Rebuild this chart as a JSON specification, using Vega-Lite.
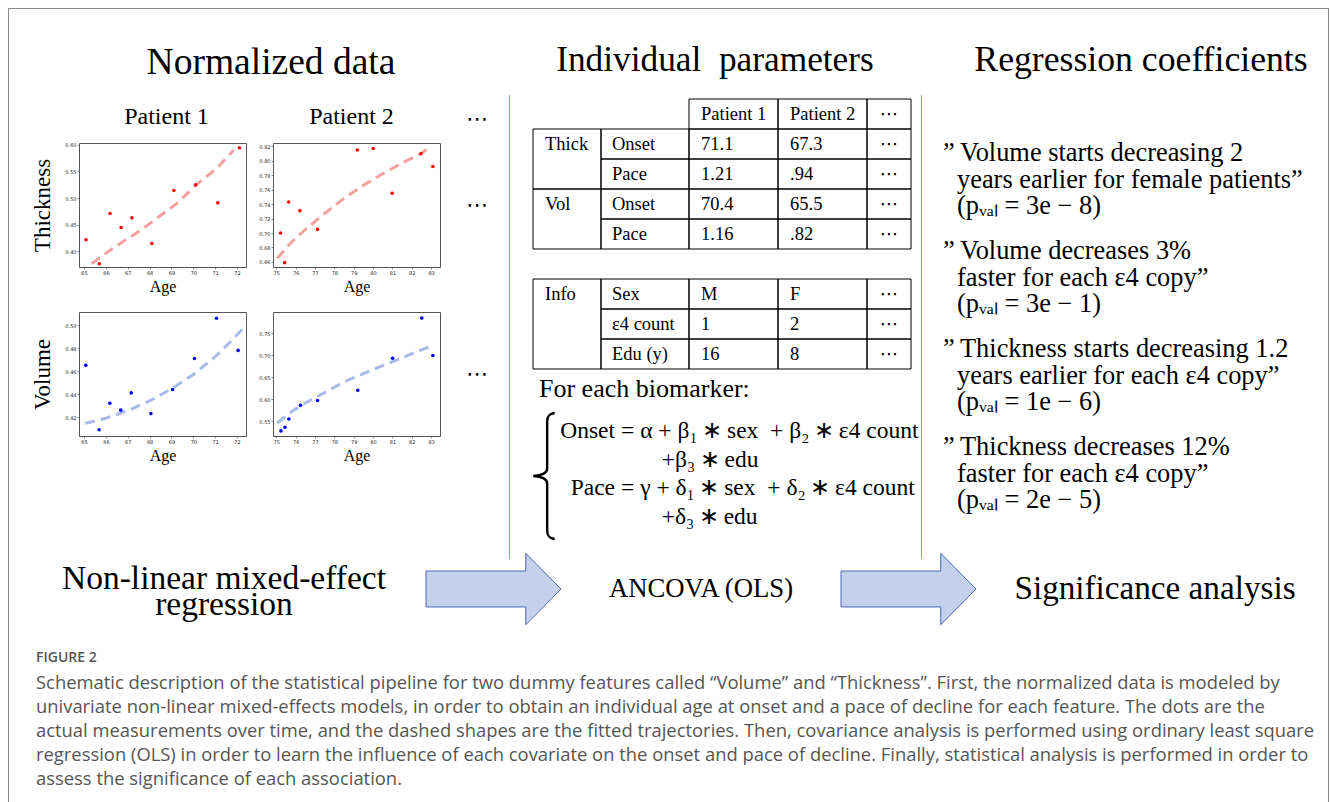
{
"$schema": "https://vega.github.io/schema/vega-lite/v6.json",
"padding": 0,
"background": "white",
"config": {
  "view": {"stroke": null},
  "axis": {"labelFont": "DejaVu Sans", "labelFontSize": 5, "labelColor": "#222", "tickColor": "#444", "tickSize": 2, "tickWidth": 0.6, "labelPadding": 1, "domain": false, "grid": false, "titleFont": "Liberation Serif", "titleFontWeight": "normal", "titleColor": "black"},
  "text": {"font": "Liberation Serif", "color": "black"},
  "title": {"font": "Liberation Serif", "fontWeight": "normal", "color": "black"}
},
"datasets": {
  "obs": [
    {"p":1,"bm":"Thickness","age":65.09,"value":0.422},{"p":1,"bm":"Thickness","age":65.70,"value":0.377},{"p":1,"bm":"Thickness","age":66.19,"value":0.471},{"p":1,"bm":"Thickness","age":66.70,"value":0.445},{"p":1,"bm":"Thickness","age":67.19,"value":0.463},{"p":1,"bm":"Thickness","age":68.10,"value":0.415},{"p":1,"bm":"Thickness","age":69.11,"value":0.514},{"p":1,"bm":"Thickness","age":70.11,"value":0.525},{"p":1,"bm":"Thickness","age":71.12,"value":0.491},{"p":1,"bm":"Thickness","age":72.11,"value":0.594},
    {"p":2,"bm":"Thickness","age":75.22,"value":0.700},{"p":2,"bm":"Thickness","age":75.43,"value":0.659},{"p":2,"bm":"Thickness","age":75.64,"value":0.743},{"p":2,"bm":"Thickness","age":76.22,"value":0.731},{"p":2,"bm":"Thickness","age":77.13,"value":0.705},{"p":2,"bm":"Thickness","age":79.19,"value":0.815},{"p":2,"bm":"Thickness","age":80.01,"value":0.817},{"p":2,"bm":"Thickness","age":80.99,"value":0.755},{"p":2,"bm":"Thickness","age":82.48,"value":0.810},{"p":2,"bm":"Thickness","age":83.09,"value":0.792},
    {"p":1,"bm":"Volume","age":65.08,"value":0.465},{"p":1,"bm":"Volume","age":65.69,"value":0.409},{"p":1,"bm":"Volume","age":66.18,"value":0.432},{"p":1,"bm":"Volume","age":66.68,"value":0.426},{"p":1,"bm":"Volume","age":67.16,"value":0.441},{"p":1,"bm":"Volume","age":68.06,"value":0.423},{"p":1,"bm":"Volume","age":69.05,"value":0.444},{"p":1,"bm":"Volume","age":70.05,"value":0.471},{"p":1,"bm":"Volume","age":71.06,"value":0.506},{"p":1,"bm":"Volume","age":72.05,"value":0.478},
    {"p":2,"bm":"Volume","age":75.24,"value":0.528},{"p":2,"bm":"Volume","age":75.45,"value":0.536},{"p":2,"bm":"Volume","age":75.65,"value":0.555},{"p":2,"bm":"Volume","age":76.25,"value":0.586},{"p":2,"bm":"Volume","age":77.13,"value":0.597},{"p":2,"bm":"Volume","age":79.21,"value":0.620},{"p":2,"bm":"Volume","age":81.01,"value":0.693},{"p":2,"bm":"Volume","age":82.52,"value":0.784},{"p":2,"bm":"Volume","age":83.09,"value":0.699}
  ],
  "fit": [
    {"p":1,"bm":"Thickness","age":65.35,"value":0.377},{"p":1,"bm":"Thickness","age":66.0,"value":0.397},{"p":1,"bm":"Thickness","age":66.8,"value":0.419},{"p":1,"bm":"Thickness","age":67.57,"value":0.439},{"p":1,"bm":"Thickness","age":68.33,"value":0.462},{"p":1,"bm":"Thickness","age":69.25,"value":0.490},{"p":1,"bm":"Thickness","age":70.17,"value":0.526},{"p":1,"bm":"Thickness","age":71.09,"value":0.556},{"p":1,"bm":"Thickness","age":71.85,"value":0.590},
    {"p":2,"bm":"Thickness","age":75.05,"value":0.665},{"p":2,"bm":"Thickness","age":75.8,"value":0.688},{"p":2,"bm":"Thickness","age":76.6,"value":0.707},{"p":2,"bm":"Thickness","age":77.5,"value":0.727},{"p":2,"bm":"Thickness","age":78.5,"value":0.748},{"p":2,"bm":"Thickness","age":79.5,"value":0.766},{"p":2,"bm":"Thickness","age":80.5,"value":0.782},{"p":2,"bm":"Thickness","age":81.5,"value":0.797},{"p":2,"bm":"Thickness","age":82.5,"value":0.810},{"p":2,"bm":"Thickness","age":82.85,"value":0.818},
    {"p":1,"bm":"Volume","age":65.05,"value":0.4145},{"p":1,"bm":"Volume","age":66.0,"value":0.419},{"p":1,"bm":"Volume","age":67.0,"value":0.4255},{"p":1,"bm":"Volume","age":68.0,"value":0.434},{"p":1,"bm":"Volume","age":69.0,"value":0.4445},{"p":1,"bm":"Volume","age":70.0,"value":0.457},{"p":1,"bm":"Volume","age":71.0,"value":0.4725},{"p":1,"bm":"Volume","age":71.7,"value":0.4855},{"p":1,"bm":"Volume","age":72.25,"value":0.4965},
    {"p":2,"bm":"Volume","age":75.05,"value":0.546},{"p":2,"bm":"Volume","age":75.8,"value":0.572},{"p":2,"bm":"Volume","age":76.6,"value":0.594},{"p":2,"bm":"Volume","age":77.5,"value":0.615},{"p":2,"bm":"Volume","age":78.5,"value":0.639},{"p":2,"bm":"Volume","age":79.5,"value":0.658},{"p":2,"bm":"Volume","age":80.5,"value":0.676},{"p":2,"bm":"Volume","age":81.5,"value":0.694},{"p":2,"bm":"Volume","age":82.5,"value":0.712},{"p":2,"bm":"Volume","age":83.15,"value":0.722}
  ],
  "t1": [
    {"c":0,"r0":1,"r1":3,"t":"Thick"},{"c":0,"r0":3,"r1":5,"t":"Vol"},
    {"c":1,"r0":1,"r1":2,"t":"Onset"},{"c":1,"r0":2,"r1":3,"t":"Pace"},{"c":1,"r0":3,"r1":4,"t":"Onset"},{"c":1,"r0":4,"r1":5,"t":"Pace"},
    {"c":2,"r0":0,"r1":1,"t":"Patient 1"},{"c":2,"r0":1,"r1":2,"t":"71.1"},{"c":2,"r0":2,"r1":3,"t":"1.21"},{"c":2,"r0":3,"r1":4,"t":"70.4"},{"c":2,"r0":4,"r1":5,"t":"1.16"},
    {"c":3,"r0":0,"r1":1,"t":"Patient 2"},{"c":3,"r0":1,"r1":2,"t":"67.3"},{"c":3,"r0":2,"r1":3,"t":".94"},{"c":3,"r0":3,"r1":4,"t":"65.5"},{"c":3,"r0":4,"r1":5,"t":".82"},
    {"c":4,"r0":0,"r1":1,"t":"⋯"},{"c":4,"r0":1,"r1":2,"t":"⋯"},{"c":4,"r0":2,"r1":3,"t":"⋯"},{"c":4,"r0":3,"r1":4,"t":"⋯"},{"c":4,"r0":4,"r1":5,"t":"⋯"}
  ],
  "t2": [
    {"c":0,"r0":0,"r1":3,"t":"Info"},
    {"c":1,"r0":0,"r1":1,"t":"Sex"},{"c":1,"r0":1,"r1":2,"t":"ε4 count"},{"c":1,"r0":2,"r1":3,"t":"Edu (y)"},
    {"c":2,"r0":0,"r1":1,"t":"M"},{"c":2,"r0":1,"r1":2,"t":"1"},{"c":2,"r0":2,"r1":3,"t":"16"},
    {"c":3,"r0":0,"r1":1,"t":"F"},{"c":3,"r0":1,"r1":2,"t":"2"},{"c":3,"r0":2,"r1":3,"t":"8"},
    {"c":4,"r0":0,"r1":1,"t":"⋯"},{"c":4,"r0":1,"r1":2,"t":"⋯"},{"c":4,"r0":2,"r1":3,"t":"⋯"}
  ],
  "eq": [
    {"ln":0,"lhs":"Onset","rhs":"= α + β₁\u2009∗\u2009sex\u00a0 + β₂\u2009∗\u2009ε4 count"},
    {"ln":1,"lhs":"","rhs":"+β₃\u2009∗\u2009edu"},
    {"ln":2,"lhs":"Pace","rhs":"= γ + δ₁\u2009∗\u2009sex\u00a0 + δ₂\u2009∗\u2009ε4 count"},
    {"ln":3,"lhs":"","rhs":"+δ₃\u2009∗\u2009edu"}
  ],
  "quotes": [
    {"q":1,"ln":0,"t":"”\u2009Volume starts decreasing 2"},{"q":1,"ln":1,"t":"years earlier for female patients”"},{"q":1,"ln":2,"t":"(pᵥₐₗ = 3e − 8)"},
    {"q":2,"ln":0,"t":"”\u2009Volume decreases 3%"},{"q":2,"ln":1,"t":"faster for each ε4 copy”"},{"q":2,"ln":2,"t":"(pᵥₐₗ = 3e − 1)"},
    {"q":3,"ln":0,"t":"”\u2009Thickness starts decreasing 1.2"},{"q":3,"ln":1,"t":"years earlier for each ε4 copy”"},{"q":3,"ln":2,"t":"(pᵥₐₗ = 1e − 6)"},
    {"q":4,"ln":0,"t":"”\u2009Thickness decreases 12%"},{"q":4,"ln":1,"t":"faster for each ε4 copy”"},{"q":4,"ln":2,"t":"(pᵥₐₗ = 2e − 5)"}
  ],
  "caption": [
    {"ln":0,"t":"Schematic description of the statistical pipeline for two dummy features called “Volume” and “Thickness”. First, the normalized data is modeled by"},
    {"ln":1,"t":"univariate non-linear mixed-effects models, in order to obtain an individual age at onset and a pace of decline for each feature. The dots are the"},
    {"ln":2,"t":"actual measurements over time, and the dashed shapes are the fitted trajectories. Then, covariance analysis is performed using ordinary least square"},
    {"ln":3,"t":"regression (OLS) in order to learn the influence of each covariate on the onset and pace of decline. Finally, statistical analysis is performed in order to"},
    {"ln":4,"t":"assess the significance of each association."}
  ]
},
"spacing": 0,
"bounds": "flush",
"vconcat": [
  {"concat": [
    {"width": 8, "height": 8, "data": {"values": []}, "mark": "point"},
    {"width": 1, "height": 8, "data": {"values": []}, "mark": "point"},
    {"width": 500, "height": 8, "data": {"values": []}, "mark": "point"},
    {"width": 1, "height": 8, "data": {"values": []}, "mark": "point"},
    {"width": 411, "height": 8, "data": {"values": []}, "mark": "point"},
    {"width": 1, "height": 8, "data": {"values": []}, "mark": "point"},
    {"width": 406, "height": 8, "data": {"values": []}, "mark": "point"},
    {"width": 1, "height": 8, "data": {"values": []}, "mark": "point"},

    {"width": 8, "height": 1, "data": {"values": []}, "mark": "point"},
    {"width": 1, "height": 1, "view": {"fill": "#8a8a8a", "stroke": null}, "data": {"values": []}, "mark": "point"},
    {"width": 500, "height": 1, "view": {"fill": "#8a8a8a", "stroke": null}, "data": {"values": []}, "mark": "point"},
    {"width": 1, "height": 1, "view": {"fill": "#8a8a8a", "stroke": null}, "data": {"values": []}, "mark": "point"},
    {"width": 411, "height": 1, "view": {"fill": "#8a8a8a", "stroke": null}, "data": {"values": []}, "mark": "point"},
    {"width": 1, "height": 1, "view": {"fill": "#8a8a8a", "stroke": null}, "data": {"values": []}, "mark": "point"},
    {"width": 406, "height": 1, "view": {"fill": "#8a8a8a", "stroke": null}, "data": {"values": []}, "mark": "point"},
    {"width": 1, "height": 1, "view": {"fill": "#8a8a8a", "stroke": null}, "data": {"values": []}, "mark": "point"},

    {"width": 8, "height": 86, "data": {"values": []}, "mark": "point"},
    {"width": 1, "height": 86, "view": {"fill": "#8a8a8a", "stroke": null}, "data": {"values": []}, "mark": "point"},
    {"width": 1, "height": 1, "data": {"values": []}, "mark": "point"},
    {"width": 1, "height": 1, "data": {"values": []}, "mark": "point"},
    {"width": 1, "height": 1, "data": {"values": []}, "mark": "point"},
    {"width": 1, "height": 1, "data": {"values": []}, "mark": "point"},
    {"width": 1, "height": 1, "data": {"values": []}, "mark": "point"},
    {"width": 1, "height": 86, "view": {"fill": "#8a8a8a", "stroke": null}, "data": {"values": []}, "mark": "point"},

    {"width": 8, "height": 464, "data": {"values": []}, "mark": "point"},
    {"width": 1, "height": 464, "view": {"fill": "#8a8a8a", "stroke": null}, "data": {"values": []}, "mark": "point"},
    {"width": 1, "height": 1, "data": {"values": []}, "mark": "point"},
    {"width": 1, "height": 464, "view": {"fill": "#7f9ce0", "stroke": null}, "data": {"values": []}, "mark": "point"},
    {"width": 1, "height": 1, "data": {"values": []}, "mark": "point"},
    {"width": 1, "height": 464, "view": {"fill": "#7f9ce0", "stroke": null}, "data": {"values": []}, "mark": "point"},
    {"width": 1, "height": 1, "data": {"values": []}, "mark": "point"},
    {"width": 1, "height": 464, "view": {"fill": "#8a8a8a", "stroke": null}, "data": {"values": []}, "mark": "point"},

    {"width": 8, "height": 243, "data": {"values": []}, "mark": "point"},
    {"width": 1, "height": 243, "view": {"fill": "#8a8a8a", "stroke": null}, "data": {"values": []}, "mark": "point"},
    {"width": 1, "height": 1, "data": {"values": []}, "mark": "point"},
    {"width": 1, "height": 1, "data": {"values": []}, "mark": "point"},
    {"width": 1, "height": 1, "data": {"values": []}, "mark": "point"},
    {"width": 1, "height": 1, "data": {"values": []}, "mark": "point"},
    {"width": 1, "height": 1, "data": {"values": []}, "mark": "point"},
    {"width": 1, "height": 243, "view": {"fill": "#8a8a8a", "stroke": null}, "data": {"values": []}, "mark": "point"}
  ], "columns": 8, "align": "each", "bounds": "flush", "spacing": 0},

  {"vconcat": [
    {"hconcat": [
      {"width": 542, "height": 95, "data": {"values": [{"t": "Normalized data"}]}, "mark": {"type": "text", "fontSize": 37.5, "baseline": "alphabetic", "dy": 26.5}, "encoding": {"text": {"field": "t"}}},
      {"width": 346, "height": 95, "data": {"values": [{"t": "Individual\u00a0 parameters"}]}, "mark": {"type": "text", "fontSize": 35.3, "baseline": "alphabetic", "dy": 23}, "encoding": {"text": {"field": "t"}}},
      {"width": 442, "height": 95, "data": {"values": [{"t": "Regression coefficients"}]}, "mark": {"type": "text", "fontSize": 35.7, "baseline": "alphabetic", "dy": 23, "dx": 32}, "encoding": {"text": {"field": "t"}}}
    ], "spacing": 0},
    {"hconcat": [
      {"concat": [
        {"width": 79, "height": 48, "data": {"values": []}, "mark": "point"},
        {"width": 167, "height": 48, "data": {"values": [{"t": "Patient 1"}]}, "mark": {"type": "text", "fontSize": 24, "baseline": "alphabetic", "dy": 5, "dx": 4}, "encoding": {"text": {"field": "t"}}},
        {"width": 27, "height": 1, "data": {"values": []}, "mark": "point"},
        {"width": 167, "height": 48, "data": {"values": [{"t": "Patient 2"}]}, "mark": {"type": "text", "fontSize": 24, "baseline": "alphabetic", "dy": 5, "dx": -5}, "encoding": {"text": {"field": "t"}}},
        {"width": 69, "height": 48, "data": {"values": [{"t": "⋯"}]}, "mark": {"type": "text", "font": "DejaVu Sans", "fontSize": 22, "dx": 2.5}, "encoding": {"text": {"field": "t"}}},

        {"width": 1, "height": 1, "data": {"values": []}, "mark": "point"},
        {"width": 167, "height": 124, "view": {"stroke": "#555", "strokeWidth": 1},
         "encoding": {
           "x": {"field": "age", "type": "quantitative", "scale": {"domain": [64.77, 72.41], "nice": false, "zero": false}, "axis": {"values": [65,66,67,68,69,70,71,72], "format": "d", "title": "Age", "titleFontSize": 16, "titleY": 24, "titleBaseline": "alphabetic"}},
           "y": {"field": "value", "type": "quantitative", "scale": {"domain": [0.371, 0.603], "nice": false, "zero": false}, "axis": {"values": [0.4,0.45,0.5,0.55,0.6], "format": ".2f", "title": "Thickness", "titleFontSize": 23, "titleX": -30, "titleY": 62, "titleAngle": 270, "titleBaseline": "alphabetic"}}
         },
         "layer": [
           {"data": {"name": "fit"}, "transform": [{"filter": "datum.p == 1 && datum.bm == 'Thickness'"}], "mark": {"type": "line", "color": "#f4a0a0", "strokeWidth": 3, "strokeDash": [10, 6]}},
           {"data": {"name": "obs"}, "transform": [{"filter": "datum.p == 1 && datum.bm == 'Thickness'"}], "mark": {"type": "point", "filled": true, "color": "#ff0000", "size": 13, "opacity": 1}}
         ]},
        {"width": 1, "height": 1, "data": {"values": []}, "mark": "point"},
        {"width": 167, "height": 124, "view": {"stroke": "#555", "strokeWidth": 1},
         "encoding": {
           "x": {"field": "age", "type": "quantitative", "scale": {"domain": [74.83, 83.46], "nice": false, "zero": false}, "axis": {"values": [75,76,77,78,79,80,81,82,83], "format": "d", "title": "Age", "titleFontSize": 16, "titleY": 24, "titleBaseline": "alphabetic"}},
           "y": {"field": "value", "type": "quantitative", "scale": {"domain": [0.653, 0.8246], "nice": false, "zero": false}, "axis": {"values": [0.66,0.68,0.7,0.72,0.74,0.76,0.78,0.8,0.82], "format": ".2f", "title": null}}
         },
         "layer": [
           {"data": {"name": "fit"}, "transform": [{"filter": "datum.p == 2 && datum.bm == 'Thickness'"}], "mark": {"type": "line", "color": "#f4a0a0", "strokeWidth": 3, "strokeDash": [10, 6]}},
           {"data": {"name": "obs"}, "transform": [{"filter": "datum.p == 2 && datum.bm == 'Thickness'"}], "mark": {"type": "point", "filled": true, "color": "#ff0000", "size": 13, "opacity": 1}}
         ]},
        {"width": 69, "height": 124, "data": {"values": [{"t": "⋯"}]}, "mark": {"type": "text", "font": "DejaVu Sans", "fontSize": 22, "dx": 2.5}, "encoding": {"text": {"field": "t"}}},

        {"width": 1, "height": 45, "data": {"values": []}, "mark": "point"},
        {"width": 1, "height": 1, "data": {"values": []}, "mark": "point"},
        {"width": 1, "height": 1, "data": {"values": []}, "mark": "point"},
        {"width": 1, "height": 1, "data": {"values": []}, "mark": "point"},
        {"width": 1, "height": 1, "data": {"values": []}, "mark": "point"},

        {"width": 1, "height": 1, "data": {"values": []}, "mark": "point"},
        {"width": 167, "height": 124, "view": {"stroke": "#555", "strokeWidth": 1},
         "encoding": {
           "x": {"field": "age", "type": "quantitative", "scale": {"domain": [64.77, 72.41], "nice": false, "zero": false}, "axis": {"values": [65,66,67,68,69,70,71,72], "format": "d", "title": "Age", "titleFontSize": 16, "titleY": 24, "titleBaseline": "alphabetic"}},
           "y": {"field": "value", "type": "quantitative", "scale": {"domain": [0.4035, 0.5114], "nice": false, "zero": false}, "axis": {"values": [0.42,0.44,0.46,0.48,0.5], "format": ".2f", "title": "Volume", "titleFontSize": 23, "titleX": -30, "titleY": 62, "titleAngle": 270, "titleBaseline": "alphabetic"}}
         },
         "layer": [
           {"data": {"name": "fit"}, "transform": [{"filter": "datum.p == 1 && datum.bm == 'Volume'"}], "mark": {"type": "line", "color": "#a8bbe8", "strokeWidth": 3, "strokeDash": [10, 6]}},
           {"data": {"name": "obs"}, "transform": [{"filter": "datum.p == 1 && datum.bm == 'Volume'"}], "mark": {"type": "point", "filled": true, "color": "#0000ff", "size": 13, "opacity": 1}}
         ]},
        {"width": 1, "height": 1, "data": {"values": []}, "mark": "point"},
        {"width": 167, "height": 124, "view": {"stroke": "#555", "strokeWidth": 1},
         "encoding": {
           "x": {"field": "age", "type": "quantitative", "scale": {"domain": [74.83, 83.46], "nice": false, "zero": false}, "axis": {"values": [75,76,77,78,79,80,81,82,83], "format": "d", "title": "Age", "titleFontSize": 16, "titleY": 24, "titleBaseline": "alphabetic"}},
           "y": {"field": "value", "type": "quantitative", "scale": {"domain": [0.5164, 0.7978], "nice": false, "zero": false}, "axis": {"values": [0.55,0.6,0.65,0.7,0.75], "format": ".2f", "title": null}}
         },
         "layer": [
           {"data": {"name": "fit"}, "transform": [{"filter": "datum.p == 2 && datum.bm == 'Volume'"}], "mark": {"type": "line", "color": "#a8bbe8", "strokeWidth": 3, "strokeDash": [10, 6]}},
           {"data": {"name": "obs"}, "transform": [{"filter": "datum.p == 2 && datum.bm == 'Volume'"}], "mark": {"type": "point", "filled": true, "color": "#0000ff", "size": 13, "opacity": 1}}
         ]},
        {"width": 69, "height": 124, "data": {"values": [{"t": "⋯"}]}, "mark": {"type": "text", "font": "DejaVu Sans", "fontSize": 22, "dx": 2.5}, "encoding": {"text": {"field": "t"}}}
      ], "columns": 5, "align": "each", "bounds": "flush", "spacing": 0},
      {"width": 1, "height": 1, "data": {"values": []}, "mark": "point"},
      {"hconcat": [
        {"width": 18, "height": 1, "data": {"values": []}, "mark": "point"},
        {"concat": [
          {"width": 68, "height": 4, "data": {"values": []}, "mark": "point"},
          {"width": 88, "height": 1, "data": {"values": []}, "mark": "point"},
          {"width": 89, "height": 1, "data": {"values": []}, "mark": "point"},
          {"width": 89, "height": 1, "data": {"values": []}, "mark": "point"},
          {"width": 59, "height": 1, "data": {"values": []}, "mark": "point"},

          {"width": 68, "height": 150, "data": {"name": "t1"}, "transform": [{"filter": "datum.c == 0"}],
           "encoding": {"y": {"field": "r0", "type": "quantitative", "scale": {"domain": [0, 5], "reverse": true, "nice": false, "zero": false}, "axis": null}},
           "layer": [
             {"mark": {"type": "rect", "fill": "white", "fillOpacity": 0, "stroke": "black", "strokeWidth": 1}, "encoding": {"y2": {"field": "r1"}}},
             {"mark": {"type": "text", "align": "left", "baseline": "alphabetic", "dy": 21, "fontSize": 18.5}, "encoding": {"x": {"value": 12}, "text": {"field": "t"}}}
           ]},
          {"width": 88, "height": 150, "data": {"name": "t1"}, "transform": [{"filter": "datum.c == 1"}],
           "encoding": {"y": {"field": "r0", "type": "quantitative", "scale": {"domain": [0, 5], "reverse": true, "nice": false, "zero": false}, "axis": null}},
           "layer": [
             {"mark": {"type": "rect", "fill": "white", "fillOpacity": 0, "stroke": "black", "strokeWidth": 1}, "encoding": {"y2": {"field": "r1"}}},
             {"mark": {"type": "text", "align": "left", "baseline": "alphabetic", "dy": 21, "fontSize": 18.5}, "encoding": {"x": {"value": 11}, "text": {"field": "t"}}}
           ]},
          {"width": 89, "height": 150, "data": {"name": "t1"}, "transform": [{"filter": "datum.c == 2"}],
           "encoding": {"y": {"field": "r0", "type": "quantitative", "scale": {"domain": [0, 5], "reverse": true, "nice": false, "zero": false}, "axis": null}},
           "layer": [
             {"mark": {"type": "rect", "fill": "white", "fillOpacity": 0, "stroke": "black", "strokeWidth": 1}, "encoding": {"y2": {"field": "r1"}}},
             {"mark": {"type": "text", "align": "left", "baseline": "alphabetic", "dy": 21, "fontSize": 18.5}, "encoding": {"x": {"value": 12}, "text": {"field": "t"}}}
           ]},
          {"width": 89, "height": 150, "data": {"name": "t1"}, "transform": [{"filter": "datum.c == 3"}],
           "encoding": {"y": {"field": "r0", "type": "quantitative", "scale": {"domain": [0, 5], "reverse": true, "nice": false, "zero": false}, "axis": null}},
           "layer": [
             {"mark": {"type": "rect", "fill": "white", "fillOpacity": 0, "stroke": "black", "strokeWidth": 1}, "encoding": {"y2": {"field": "r1"}}},
             {"mark": {"type": "text", "align": "left", "baseline": "alphabetic", "dy": 21, "fontSize": 18.5}, "encoding": {"x": {"value": 12}, "text": {"field": "t"}}}
           ]},
          {"width": 44, "height": 150, "data": {"name": "t1"}, "transform": [{"filter": "datum.c == 4"}],
           "encoding": {"y": {"field": "r0", "type": "quantitative", "scale": {"domain": [0, 5], "reverse": true, "nice": false, "zero": false}, "axis": null}},
           "layer": [
             {"mark": {"type": "rect", "fill": "white", "fillOpacity": 0, "stroke": "black", "strokeWidth": 1}, "encoding": {"y2": {"field": "r1"}}},
             {"mark": {"type": "text", "align": "center", "baseline": "alphabetic", "dy": 21, "fontSize": 18.5, "font": "DejaVu Sans"}, "encoding": {"text": {"field": "t"}}}
           ]},

          {"width": 1, "height": 30, "data": {"values": []}, "mark": "point"},
          {"width": 1, "height": 1, "data": {"values": []}, "mark": "point"},
          {"width": 1, "height": 1, "data": {"values": []}, "mark": "point"},
          {"width": 1, "height": 1, "data": {"values": []}, "mark": "point"},
          {"width": 1, "height": 1, "data": {"values": []}, "mark": "point"},

          {"width": 68, "height": 90, "data": {"name": "t2"}, "transform": [{"filter": "datum.c == 0"}],
           "encoding": {"y": {"field": "r0", "type": "quantitative", "scale": {"domain": [0, 3], "reverse": true, "nice": false, "zero": false}, "axis": null}},
           "layer": [
             {"mark": {"type": "rect", "fill": "white", "fillOpacity": 0, "stroke": "black", "strokeWidth": 1}, "encoding": {"y2": {"field": "r1"}}},
             {"mark": {"type": "text", "align": "left", "baseline": "alphabetic", "dy": 21, "fontSize": 18.5}, "encoding": {"x": {"value": 12}, "text": {"field": "t"}}}
           ]},
          {"width": 88, "height": 90, "data": {"name": "t2"}, "transform": [{"filter": "datum.c == 1"}],
           "encoding": {"y": {"field": "r0", "type": "quantitative", "scale": {"domain": [0, 3], "reverse": true, "nice": false, "zero": false}, "axis": null}},
           "layer": [
             {"mark": {"type": "rect", "fill": "white", "fillOpacity": 0, "stroke": "black", "strokeWidth": 1}, "encoding": {"y2": {"field": "r1"}}},
             {"mark": {"type": "text", "align": "left", "baseline": "alphabetic", "dy": 21, "fontSize": 18.5}, "encoding": {"x": {"value": 11}, "text": {"field": "t"}}}
           ]},
          {"width": 89, "height": 90, "data": {"name": "t2"}, "transform": [{"filter": "datum.c == 2"}],
           "encoding": {"y": {"field": "r0", "type": "quantitative", "scale": {"domain": [0, 3], "reverse": true, "nice": false, "zero": false}, "axis": null}},
           "layer": [
             {"mark": {"type": "rect", "fill": "white", "fillOpacity": 0, "stroke": "black", "strokeWidth": 1}, "encoding": {"y2": {"field": "r1"}}},
             {"mark": {"type": "text", "align": "left", "baseline": "alphabetic", "dy": 21, "fontSize": 18.5}, "encoding": {"x": {"value": 12}, "text": {"field": "t"}}}
           ]},
          {"width": 89, "height": 90, "data": {"name": "t2"}, "transform": [{"filter": "datum.c == 3"}],
           "encoding": {"y": {"field": "r0", "type": "quantitative", "scale": {"domain": [0, 3], "reverse": true, "nice": false, "zero": false}, "axis": null}},
           "layer": [
             {"mark": {"type": "rect", "fill": "white", "fillOpacity": 0, "stroke": "black", "strokeWidth": 1}, "encoding": {"y2": {"field": "r1"}}},
             {"mark": {"type": "text", "align": "left", "baseline": "alphabetic", "dy": 21, "fontSize": 18.5}, "encoding": {"x": {"value": 12}, "text": {"field": "t"}}}
           ]},
          {"width": 44, "height": 90, "data": {"name": "t2"}, "transform": [{"filter": "datum.c == 4"}],
           "encoding": {"y": {"field": "r0", "type": "quantitative", "scale": {"domain": [0, 3], "reverse": true, "nice": false, "zero": false}, "axis": null}},
           "layer": [
             {"mark": {"type": "rect", "fill": "white", "fillOpacity": 0, "stroke": "black", "strokeWidth": 1}, "encoding": {"y2": {"field": "r1"}}},
             {"mark": {"type": "text", "align": "center", "baseline": "alphabetic", "dy": 21, "fontSize": 18.5, "font": "DejaVu Sans"}, "encoding": {"text": {"field": "t"}}}
           ]},

          {"width": 68, "height": 42, "data": {"values": [{"t": "For each biomarker:"}]}, "mark": {"type": "text", "align": "left", "baseline": "alphabetic", "fontSize": 26, "dy": 6.7}, "encoding": {"x": {"value": 6}, "text": {"field": "t"}}},
          {"width": 1, "height": 1, "data": {"values": []}, "mark": "point"},
          {"width": 1, "height": 1, "data": {"values": []}, "mark": "point"},
          {"width": 1, "height": 1, "data": {"values": []}, "mark": "point"},
          {"width": 1, "height": 1, "data": {"values": []}, "mark": "point"},

          {"width": 22, "height": 140, "data": {"values": [{"k": "brace"}]}, "mark": {"type": "point", "shape": "M0.17,-1 C0.08,-0.99 0.05,-0.95 0.05,-0.86 L0.05,-0.12 C0.05,-0.05 -0.04,-0.01 -0.17,0 C-0.04,0.01 0.05,0.05 0.05,0.12 L0.05,0.86 C0.05,0.95 0.08,0.99 0.17,1", "size": 15876, "filled": false, "color": "black", "strokeWidth": 2.4, "opacity": 1, "yOffset": -5}, "encoding": {}},
          {"width": 88, "height": 140, "data": {"name": "eq"},
           "encoding": {"y": {"field": "ln", "type": "ordinal", "scale": {"type": "point", "padding": 0.965, "domain": [0, 1, 2, 3]}, "axis": null}},
           "layer": [
             {"transform": [{"filter": "datum.lhs != ''"}], "mark": {"type": "text", "align": "right", "baseline": "alphabetic", "fontSize": 23.5}, "encoding": {"x": {"value": 14}, "text": {"field": "lhs"}}},
             {"transform": [{"filter": "datum.lhs != ''"}], "mark": {"type": "text", "align": "left", "baseline": "alphabetic", "fontSize": 23.5}, "encoding": {"x": {"value": 20}, "text": {"field": "rhs"}}},
             {"transform": [{"filter": "datum.lhs == ''"}], "mark": {"type": "text", "align": "left", "baseline": "alphabetic", "fontSize": 23.5}, "encoding": {"x": {"value": 60.7}, "text": {"field": "rhs"}}}
           ]},
          {"width": 1, "height": 1, "data": {"values": []}, "mark": "point"},
          {"width": 1, "height": 1, "data": {"values": []}, "mark": "point"},
          {"width": 1, "height": 1, "data": {"values": []}, "mark": "point"}
        ], "columns": 5, "align": "each", "bounds": "flush", "spacing": 0}
      ], "spacing": 0},
      {"width": 1, "height": 1, "data": {"values": []}, "mark": "point"},
      {"hconcat": [
        {"width": 16, "height": 1, "data": {"values": []}, "mark": "point"},
        {"vconcat": [
          {"width": 1, "height": 43.4, "data": {"values": []}, "mark": "point"},
          {"width": 392, "height": 97.5, "data": {"name": "quotes"}, "transform": [{"filter": "datum.q == 1"}],
           "encoding": {"y": {"field": "ln", "type": "ordinal", "scale": {"type": "point", "padding": 0.84, "domain": [0, 1, 2]}, "axis": null}, "text": {"field": "t"}},
           "layer": [
             {"transform": [{"filter": "datum.ln == 0"}], "mark": {"type": "text", "align": "left", "baseline": "alphabetic", "fontSize": 26.4}, "encoding": {"x": {"value": 0}}},
             {"transform": [{"filter": "datum.ln > 0"}], "mark": {"type": "text", "align": "left", "baseline": "alphabetic", "fontSize": 26.4}, "encoding": {"x": {"value": 14}}}
           ]},
          {"width": 392, "height": 97.5, "data": {"name": "quotes"}, "transform": [{"filter": "datum.q == 2"}],
           "encoding": {"y": {"field": "ln", "type": "ordinal", "scale": {"type": "point", "padding": 0.84, "domain": [0, 1, 2]}, "axis": null}, "text": {"field": "t"}},
           "layer": [
             {"transform": [{"filter": "datum.ln == 0"}], "mark": {"type": "text", "align": "left", "baseline": "alphabetic", "fontSize": 26.4}, "encoding": {"x": {"value": 0}}},
             {"transform": [{"filter": "datum.ln > 0"}], "mark": {"type": "text", "align": "left", "baseline": "alphabetic", "fontSize": 26.4}, "encoding": {"x": {"value": 14}}}
           ]},
          {"width": 392, "height": 97.5, "data": {"name": "quotes"}, "transform": [{"filter": "datum.q == 3"}],
           "encoding": {"y": {"field": "ln", "type": "ordinal", "scale": {"type": "point", "padding": 0.84, "domain": [0, 1, 2]}, "axis": null}, "text": {"field": "t"}},
           "layer": [
             {"transform": [{"filter": "datum.ln == 0"}], "mark": {"type": "text", "align": "left", "baseline": "alphabetic", "fontSize": 26.4}, "encoding": {"x": {"value": 0}}},
             {"transform": [{"filter": "datum.ln > 0"}], "mark": {"type": "text", "align": "left", "baseline": "alphabetic", "fontSize": 26.4}, "encoding": {"x": {"value": 14}}}
           ]},
          {"width": 392, "height": 97.5, "data": {"name": "quotes"}, "transform": [{"filter": "datum.q == 4"}],
           "encoding": {"y": {"field": "ln", "type": "ordinal", "scale": {"type": "point", "padding": 0.84, "domain": [0, 1, 2]}, "axis": null}, "text": {"field": "t"}},
           "layer": [
             {"transform": [{"filter": "datum.ln == 0"}], "mark": {"type": "text", "align": "left", "baseline": "alphabetic", "fontSize": 26.4}, "encoding": {"x": {"value": 0}}},
             {"transform": [{"filter": "datum.ln > 0"}], "mark": {"type": "text", "align": "left", "baseline": "alphabetic", "fontSize": 26.4}, "encoding": {"x": {"value": 14}}}
           ]}
        ], "spacing": 0}
      ], "spacing": 0}
    ], "spacing": 0},
    {"hconcat": [
      {"width": 424, "height": 72, "data": {"values": [{"t": "Non-linear mixed-effect\nregression"}]}, "mark": {"type": "text", "fontSize": 33.5, "lineBreak": "\n", "lineHeight": 26, "baseline": "alphabetic", "dx": 12}, "encoding": {"text": {"field": "t"}}},
      {"width": 135, "height": 72, "data": {"values": [{"step": "to ANCOVA"}]}, "mark": {"type": "point", "shape": "M-1,-0.266L0.478,-0.266L0.478,-0.529L1,0L0.478,0.529L0.478,0.266L-1,0.266Z", "size": 18225, "filled": true, "fill": "#c5d0ec", "stroke": "#4a67b5", "strokeWidth": 1, "opacity": 1}, "encoding": {}},
      {"width": 276, "height": 72, "data": {"values": [{"t": "ANCOVA (OLS)"}]}, "mark": {"type": "text", "fontSize": 26.7, "baseline": "alphabetic", "dy": 8}, "encoding": {"text": {"field": "t"}}},
      {"width": 135, "height": 72, "data": {"values": [{"step": "to significance"}]}, "mark": {"type": "point", "shape": "M-1,-0.266L0.478,-0.266L0.478,-0.529L1,0L0.478,0.529L0.478,0.266L-1,0.266Z", "size": 18225, "filled": true, "fill": "#c5d0ec", "stroke": "#4a67b5", "strokeWidth": 1, "opacity": 1}, "encoding": {}},
      {"width": 360, "height": 72, "data": {"values": [{"t": "Significance analysis"}]}, "mark": {"type": "text", "fontSize": 33.2, "baseline": "alphabetic", "dy": 10, "dx": -3}, "encoding": {"text": {"field": "t"}}}
    ], "spacing": 0},
    {"hconcat": [
      {"width": 36, "height": 1, "data": {"values": []}, "mark": "point"},
      {"vconcat": [
        {"width": 1290, "height": 47, "data": {"values": [{"t": "FIGURE 2"}]}, "mark": {"type": "text", "font": "Open Sans", "fontSize": 14, "fontWeight": 600, "color": "#555", "align": "left", "baseline": "alphabetic", "dy": 11.8}, "encoding": {"x": {"value": 0}, "text": {"field": "t"}}},
        {"width": 1290, "height": 120, "data": {"name": "caption"}, "mark": {"type": "text", "font": "Open Sans", "fontSize": 18.4, "color": "#555", "align": "left", "baseline": "alphabetic"}, "encoding": {"x": {"value": 0}, "y": {"field": "ln", "type": "ordinal", "scale": {"type": "point", "padding": 0.5}, "axis": null}, "text": {"field": "t"}}}
      ], "spacing": 0}
    ], "spacing": 0}
  ], "spacing": 0}
]
}
